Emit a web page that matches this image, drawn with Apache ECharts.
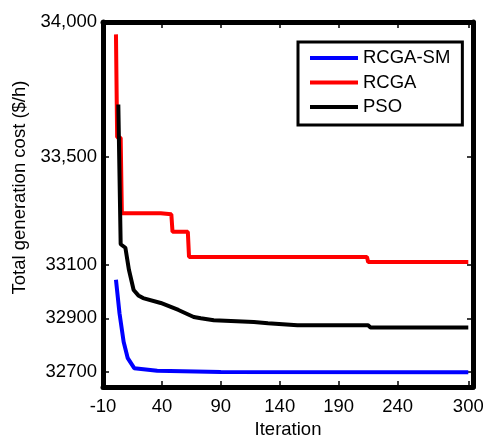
<!DOCTYPE html>
<html>
<head>
<meta charset="utf-8">
<script src="https://cdn.jsdelivr.net/npm/echarts@6/dist/echarts.min.js"></script>
<style>
  html, body { margin: 0; padding: 0; background: #fff; }
  #chart { width: 483px; height: 435px; }
</style>
</head>
<body>
<div id="chart"></div>
<script>
// values
var seriesNames = ['RCGA-SM', 'RCGA', 'PSO'];

var rcgaSmIter = [1, 4, 7.5, 11, 16.5, 36, 90, 300];
var rcgaSmCost = [33043, 32919, 32813, 32752, 32715, 32705, 32701, 32700];

var rcgaIter = [1, 2, 5, 6, 39, 40, 48, 49, 62, 63, 214, 215, 300];
var rcgaCost = [33954, 33572, 33570, 33290, 33290, 33286, 33286, 33221, 33221, 33128, 33128, 33109, 33109];

var psoIter = [3, 5, 9, 12, 16, 20, 24, 39, 54, 67, 73, 84, 118, 130, 155, 215, 217, 300];
var psoCost = [33694, 33175, 33162, 33080, 33005, 32985, 32975, 32957, 32931, 32905, 32900, 32893, 32886, 32882, 32874, 32874, 32866, 32866];

var xTicks = [-10, 40, 90, 140, 190, 240, 300];
var yTicks = [32700, 32900, 33100, 33500, 34000];
var yTickLabels = ['32700', '32900', '33100', '33,500', '34,000'];

function pairs(xs, ys) {
    return xs.map(function (x, i) { return [x, ys[i]]; });
}

var font = "'Liberation Sans', Arial, sans-serif";
var lineStyle = { width: 4 };

var myChart = echarts.init(document.getElementById('chart'));

var axisLine = { show: true, onZero: false, lineStyle: { color: '#000', width: 5 } };

var option = {
    backgroundColor: '#fff',
    animation: false,
    grid: { left: 103, right: 10, top: 22, bottom: 48, containLabel: false, outerBoundsMode: 'none' },
    legend: {
        orient: 'vertical',
        left: 298,
        top: 42,
        data: seriesNames,
        icon: 'rect',
        itemWidth: 48,
        itemHeight: 4,
        itemGap: 4.5,
        padding: [6, 12, 8, 12],
        borderColor: '#000',
        borderWidth: 3,
        backgroundColor: '#fff',
        textStyle: { color: '#000', fontSize: 18.5, lineHeight: 20, fontFamily: font }
    },
    xAxis: [
        {
            type: 'value',
            min: -10,
            max: 304,
            name: 'Iteration',
            nameLocation: 'middle',
            nameGap: 31,
            nameTextStyle: { color: '#000', fontSize: 18.5, fontFamily: font },
            axisLine: axisLine,
            axisTick: { show: true, inside: true, length: 6, customValues: xTicks, lineStyle: { color: '#000', width: 1.5 } },
            axisLabel: { customValues: xTicks, color: '#000', fontSize: 18.5, fontFamily: font, margin: 10 },
            splitLine: { show: false }
        },
        {
            type: 'value',
            position: 'top',
            min: -10,
            max: 304,
            axisLine: axisLine,
            axisTick: { show: true, inside: true, length: 6, customValues: xTicks, lineStyle: { color: '#000', width: 1.5 } },
            axisLabel: { show: false },
            splitLine: { show: false }
        }
    ],
    yAxis: [
        {
            type: 'value',
            min: 32645,
            max: 34000,
            name: 'Total generation cost ($/h)',
            nameLocation: 'middle',
            nameGap: 70,
            nameTextStyle: { color: '#000', fontSize: 18.5, fontFamily: font, padding: [0, 0, 0, 34] },
            axisLine: axisLine,
            axisTick: { show: true, inside: true, length: 6, customValues: yTicks, lineStyle: { color: '#000', width: 1.5 } },
            axisLabel: {
                customValues: yTicks,
                color: '#000',
                fontSize: 18.5,
                fontFamily: font,
                margin: 6,
                formatter: function (v) {
                    var i = yTicks.indexOf(v);
                    return i >= 0 ? yTickLabels[i] : '';
                }
            },
            splitLine: { show: false }
        },
        {
            type: 'value',
            position: 'right',
            min: 32645,
            max: 34000,
            axisLine: axisLine,
            axisTick: { show: true, inside: true, length: 6, customValues: yTicks, lineStyle: { color: '#000', width: 1.5 } },
            axisLabel: { show: false },
            splitLine: { show: false }
        }
    ],
    series: [
        {
            name: 'RCGA-SM',
            type: 'line',
            data: pairs(rcgaSmIter, rcgaSmCost),
            symbol: 'none',
            lineStyle: lineStyle,
            itemStyle: { color: '#0000ff' },
            color: '#0000ff'
        },
        {
            name: 'RCGA',
            type: 'line',
            data: pairs(rcgaIter, rcgaCost),
            symbol: 'none',
            lineStyle: lineStyle,
            itemStyle: { color: '#ff0000' },
            color: '#ff0000'
        },
        {
            name: 'PSO',
            type: 'line',
            data: pairs(psoIter, psoCost),
            symbol: 'none',
            lineStyle: lineStyle,
            itemStyle: { color: '#000000' },
            color: '#000000'
        }
    ]
};

option && myChart.setOption(option);
</script>
</body>
</html>
